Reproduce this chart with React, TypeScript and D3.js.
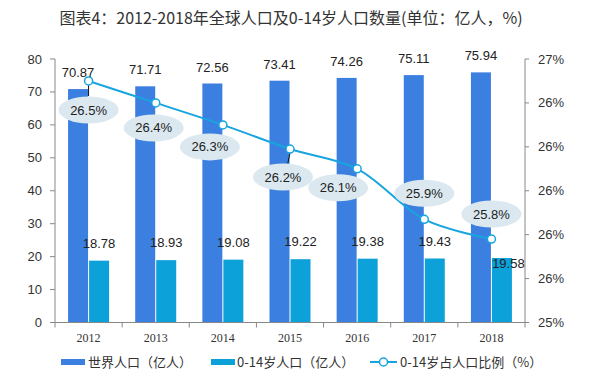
import React from "react";
import * as d3 from "d3";

const years = ["2012", "2013", "2014", "2015", "2016", "2017", "2018"];
const worldPop = [70.87, 71.71, 72.56, 73.41, 74.26, 75.11, 75.94];
const childPop = [18.78, 18.93, 19.08, 19.22, 19.38, 19.43, 19.58];
const childShare = [26.5, 26.4, 26.3, 26.19, 26.1, 25.87, 25.78];
const leftTicks = [0, 10, 20, 30, 40, 50, 60, 70, 80];
const rightTicks = [25.4, 25.6, 25.8, 26.0, 26.2, 26.4, 26.6];
const rightTickLabels = ["25%", "26%", "26%", "26%", "26%", "26%", "27%"];
const legendLabels = ["世界人口（亿人）", "0-14岁人口（亿人）", "0-14岁占人口比例（%）"];
const title = "图表4：2012-2018年全球人口及0-14岁人口数量(单位：亿人，%)";

// label layout offsets (relative to points)
const shareLabelOffsets: [number, number][] = [
  [0, 29], [-2, 25], [-13, 22], [-7, 28], [-19, 19], [0, -26], [0, -25],
];
const leaderIdx = [0, 3];

const W = 600, H = 386;
const M = { left: 55, right: 525, top: 59, bottom: 322.5 };
const C_BIG = "#3b7fe0";
const C_SMALL = "#0da1da";
const C_LINE = "#18a5df";
const NUM_FONT = "'Liberation Sans', Arial, sans-serif";
const CJK_FONT = "'Noto Sans CJK SC', sans-serif";

export default function App() {
  const x = d3.scaleBand<string>().domain(years).range([M.left, M.right]).padding(0);
  const yL = d3.scaleLinear().domain([0, 80]).range([M.bottom, M.top]);
  const yR = d3.scaleLinear().domain([25.4, 26.6]).range([M.bottom, M.top]);
  const bw = 20;
  const cx = (i: number) => (x(years[i]) as number) + x.bandwidth() / 2;

  const pts: [number, number][] = childShare.map((v, i) => [cx(i), yR(v)]);
  const line = d3.line().curve(d3.curveCatmullRom.alpha(0.5))(pts) as string;

  const boundaries = d3.range(years.length + 1).map((i) => M.left + i * x.bandwidth());

  return (
    <svg width={W} height={H} style={{ position: "absolute", left: 0, top: 0, background: "#fff" }}>
      <rect x={0} y={0} width={W} height={H} fill="#fff" />
      <text x={291} y={24} textAnchor="middle" fontFamily={CJK_FONT} fontSize={16} fill="#333">
        {title}
      </text>

      {/* left axis */}
      <line x1={M.left} x2={M.left} y1={M.top} y2={M.bottom} stroke="#888" />
      {leftTicks.map((t) => (
        <g key={t}>
          <line x1={M.left - 5} x2={M.left} y1={yL(t)} y2={yL(t)} stroke="#888" />
          <text x={M.left - 13} y={yL(t)} dy="0.35em" textAnchor="end" fontFamily={NUM_FONT} fontSize={13} fill="#333">
            {t}
          </text>
        </g>
      ))}

      {/* right axis */}
      <line x1={M.right} x2={M.right} y1={M.top} y2={M.bottom} stroke="#888" />
      {rightTicks.map((t, i) => (
        <g key={t}>
          <line x1={M.right} x2={M.right + 4} y1={yR(t)} y2={yR(t)} stroke="#888" />
          <text x={M.right + 13} y={yR(t)} dy="0.35em" textAnchor="start" fontFamily={NUM_FONT} fontSize={13} fill="#333">
            {rightTickLabels[i]}
          </text>
        </g>
      ))}

      {/* bars */}
      {worldPop.map((v, i) => (
        <rect key={"b" + i} x={cx(i) - bw - 0.5} y={yL(v)} width={bw} height={yL(0) - yL(v)} fill={C_BIG} />
      ))}
      {childPop.map((v, i) => (
        <rect key={"s" + i} x={cx(i) + 0.5} y={yL(v)} width={bw} height={yL(0) - yL(v)} fill={C_SMALL} />
      ))}

      {/* x axis */}
      <line x1={M.left} x2={M.right} y1={M.bottom} y2={M.bottom} stroke="#888" />
      {boundaries.map((b, i) => (
        <line key={"xt" + i} x1={b} x2={b} y1={M.bottom} y2={M.bottom + 5} stroke="#888" />
      ))}
      {years.map((yv, i) => (
        <text key={yv} x={cx(i)} y={338} dy="0.35em" textAnchor="middle" fontFamily="'Liberation Serif', serif" fontSize={12} fill="#333">
          {yv}
        </text>
      ))}

      {/* bar labels */}
      {worldPop.map((v, i) => (
        <text key={"wl" + i} x={cx(i) - 10.5} y={yL(v) - 12} textAnchor="middle" fontFamily={NUM_FONT} fontSize={13} fill="#222">
          {v.toFixed(2)}
        </text>
      ))}
      {childPop.map((v, i) => {
        const last = i === childPop.length - 1;
        const lx = last ? cx(i) + 17 : cx(i) + 10.5;
        const ly = last ? yL(v) + 10 : yL(v) - 13;
        return (
          <text key={"cl" + i} x={lx} y={ly} textAnchor="middle" fontFamily={NUM_FONT} fontSize={13} fill="#222">
            {v.toFixed(2)}
          </text>
        );
      })}

      {/* line */}
      <path d={line} fill="none" stroke={C_LINE} strokeWidth={2} />

      {/* leader lines */}
      {leaderIdx.map((i) => {
        const [px, py] = pts[i];
        const [dx, dy] = shareLabelOffsets[i];
        return <line key={"ld" + i} x1={px} y1={py + 4} x2={px + dx * 0.3} y2={py + dy - 14} stroke="#111" strokeWidth={1} />;
      })}

      {/* share labels */}
      {childShare.map((v, i) => {
        const [px, py] = pts[i];
        const [dx, dy] = shareLabelOffsets[i];
        return (
          <g key={"sl" + i}>
            <ellipse cx={px + dx} cy={py + dy} rx={30} ry={13.5} fill="#dbe8f0" />
            <text x={px + dx} y={py + dy} dy="0.35em" textAnchor="middle" fontFamily={NUM_FONT} fontSize={13} fill="#222">
              {v.toFixed(1) + "%"}
            </text>
          </g>
        );
      })}

      {/* markers */}
      {pts.map(([px, py], i) => (
        <circle key={"m" + i} cx={px} cy={py} r={4} fill="#fff" stroke={C_LINE} strokeWidth={1.5} />
      ))}

      {/* legend */}
      <g>
        <rect x={61} y={359} width={24} height={6} fill={C_BIG} />
        <text x={88} y={362} dy="0.35em" fontFamily={CJK_FONT} fontSize={13} fill="#333">{legendLabels[0]}</text>
        <rect x={211} y={359} width={24} height={6} fill={C_SMALL} />
        <text x={237} y={362} dy="0.35em" fontFamily={CJK_FONT} fontSize={13} fill="#333">{legendLabels[1]}</text>
        <line x1={370} x2={397} y1={362} y2={362} stroke={C_LINE} strokeWidth={2} />
        <circle cx={383.5} cy={362} r={4} fill="#fff" stroke={C_LINE} strokeWidth={1.5} />
        <text x={400} y={362} dy="0.35em" fontFamily={CJK_FONT} fontSize={13} fill="#333">{legendLabels[2]}</text>
      </g>
    </svg>
  );
}
